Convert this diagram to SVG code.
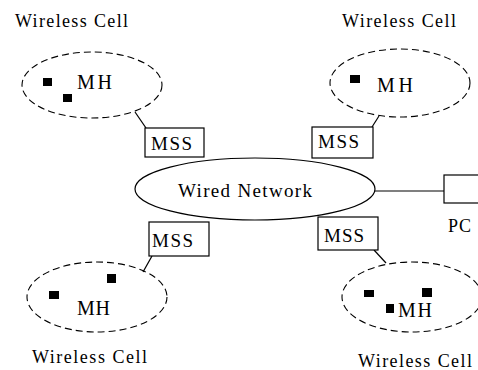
<svg xmlns="http://www.w3.org/2000/svg" width="478" height="370" viewBox="0 0 478 370">
<style>
text{font-family:"Liberation Serif","Times New Roman",serif;fill:#000}
.lbl{font-size:18px}
.mss{font-size:19px}
.mh{font-size:20px}
.net{font-size:19px}
.cell{fill:none;stroke:#000;stroke-width:1.1;stroke-dasharray:7 4}
.box{fill:#fff;stroke:#000;stroke-width:1.2}
.ln{fill:none;stroke:#000;stroke-width:1.2}
.host{fill:#000}
</style>
<rect width="478" height="370" fill="#fff"/>
<g id="connectors">
<line class="ln" x1="135" y1="112" x2="146" y2="128"/>
<line class="ln" x1="379" y1="116" x2="372" y2="127"/>
<line class="ln" x1="152" y1="256" x2="143" y2="272"/>
<line class="ln" x1="374" y1="250" x2="386" y2="263"/>
<line class="ln" x1="375" y1="191" x2="444" y2="191"/>
</g>
<g id="wired-network">
<ellipse class="ln" cx="255" cy="189" rx="120" ry="31" fill="#fff"/>
<text class="net" x="178" y="197" textLength="134" lengthAdjust="spacing">Wired Network</text>
</g>
<g id="cell-top-left">
<ellipse class="cell" cx="92" cy="85" rx="70" ry="33"/>
<rect class="host" x="43" y="78" width="9" height="8"/>
<rect class="host" x="63" y="94" width="9" height="8"/>
<text class="mh" x="77" y="89" textLength="35" lengthAdjust="spacing">MH</text>
<text class="lbl" x="15" y="27" textLength="113" lengthAdjust="spacing">Wireless Cell</text>
</g>
<g id="cell-top-right">
<ellipse class="cell" cx="400" cy="83" rx="70" ry="34"/>
<rect class="host" x="350" y="75" width="10" height="8"/>
<text class="mh" x="377" y="92" textLength="36" lengthAdjust="spacing">MH</text>
<text class="lbl" x="342" y="27" textLength="114" lengthAdjust="spacing">Wireless Cell</text>
</g>
<g id="cell-bottom-left">
<ellipse class="cell" cx="97" cy="297" rx="70" ry="35"/>
<rect class="host" x="49" y="291" width="10" height="8"/>
<rect class="host" x="107" y="274" width="9" height="9"/>
<text class="mh" x="77" y="315" textLength="33" lengthAdjust="spacing">MH</text>
<text class="lbl" x="32" y="363" textLength="115" lengthAdjust="spacing">Wireless Cell</text>
</g>
<g id="cell-bottom-right">
<ellipse class="cell" cx="412" cy="297" rx="70" ry="35"/>
<rect class="host" x="364" y="290" width="10" height="7"/>
<rect class="host" x="422" y="288" width="10" height="9"/>
<rect class="host" x="386" y="304" width="8" height="9"/>
<text class="mh" x="398" y="317" textLength="34" lengthAdjust="spacing">MH</text>
<text class="lbl" x="358" y="367" textLength="114" lengthAdjust="spacing">Wireless Cell</text>
</g>
<g id="mss-top-left">
<rect class="box" x="145" y="128" width="59" height="29"/>
<text class="mss" x="151" y="150" textLength="41" lengthAdjust="spacing">MSS</text>
</g>
<g id="mss-top-right">
<rect class="box" x="312" y="127" width="61" height="31"/>
<text class="mss" x="318" y="148" textLength="41" lengthAdjust="spacing">MSS</text>
</g>
<g id="mss-bottom-left">
<rect class="box" x="149" y="222" width="60" height="34"/>
<text class="mss" x="152" y="247" textLength="41" lengthAdjust="spacing">MSS</text>
</g>
<g id="mss-bottom-right">
<rect class="box" x="318" y="217" width="60" height="33"/>
<text class="mss" x="324" y="242" textLength="40" lengthAdjust="spacing">MSS</text>
</g>
<g id="pc">
<rect class="box" x="444" y="175" width="40" height="28"/>
<text class="lbl" x="448" y="232" textLength="23" lengthAdjust="spacing">PC</text>
</g>
</svg>
